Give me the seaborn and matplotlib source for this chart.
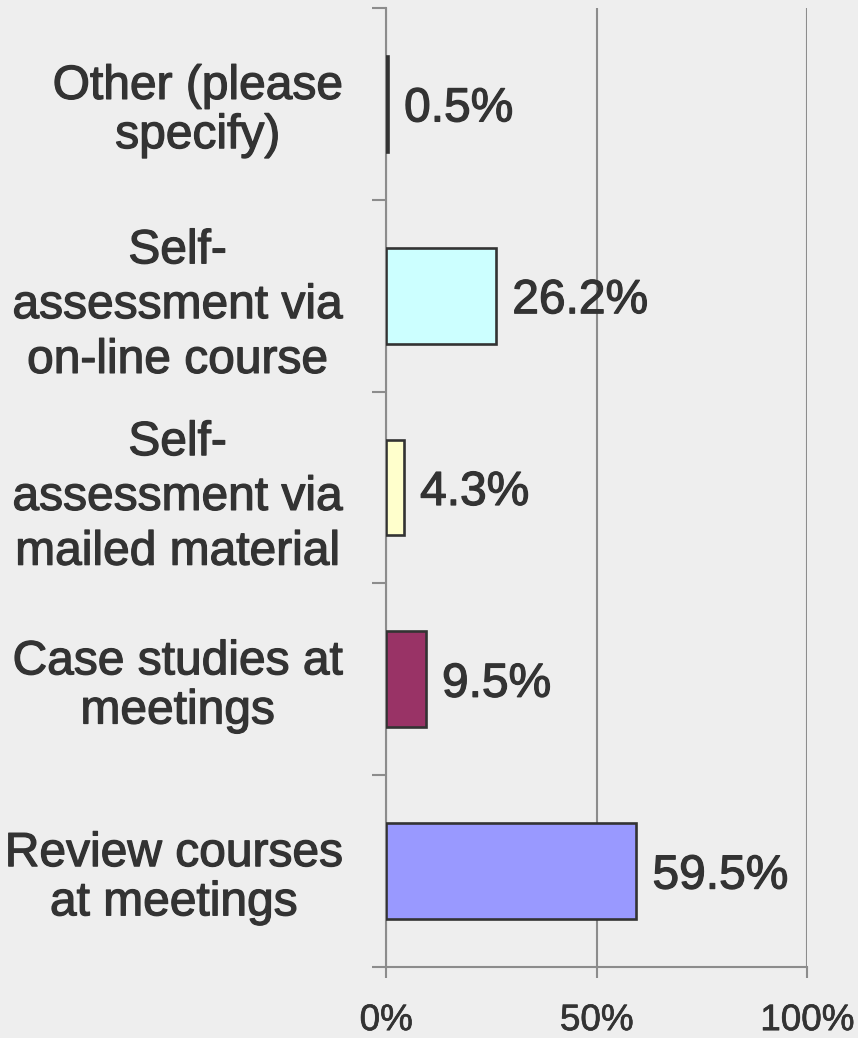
import matplotlib
matplotlib.use("Agg")
import matplotlib.pyplot as plt
import matplotlib.patheffects as pe
import seaborn as sns
import pandas as pd

categories = [
    "Other (please\nspecify)",
    "Self-\nassessment via\non-line course",
    "Self-\nassessment via\nmailed material",
    "Case studies at\nmeetings",
    "Review courses\nat meetings",
]
values = [0.5, 26.2, 4.3, 9.5, 59.5]
colors = ["#660066", "#ccffff", "#ffffcc", "#993366", "#9999ff"]
xtick_values = [0, 50, 100]
xtick_labels = ["0%", "50%", "100%"]

bg = "#eeeeee"
text_color = "#333333"
grid_color = "#8c8c8c"
heavier = [pe.withStroke(linewidth=0.9, foreground=text_color)]

sns.set_theme(style="white")
plt.rcParams["font.family"] = ["Liberation Sans", "DejaVu Sans"]

df = pd.DataFrame({"category": categories, "value": values})

W, H = 858, 1038
fig = plt.figure(figsize=(W / 100, H / 100), dpi=100, facecolor=bg)
ax = fig.add_axes([386 / W, (H - 967) / H, (807 - 386) / W, (967 - 8) / H])
ax.set_facecolor(bg)

sns.barplot(
    data=df, x="value", y="category", hue="category",
    palette=colors, saturation=1, orient="h", width=0.5, legend=False,
    edgecolor=text_color, linewidth=1.9, ax=ax, zorder=3,
)

ax.set_xlim(0, 100)
ax.set_ylim(len(categories) - 0.5, -0.5)
ax.set_xticks(xtick_values)
ax.set_xticklabels(xtick_labels)
ax.set_xlabel("")
ax.set_ylabel("")

# vertical gridlines
ax.grid(axis="x", color=grid_color, linewidth=1.5, zorder=0)
ax.set_axisbelow(True)

# category boundaries as tick marks on the left
ax.set_yticks([i - 0.5 for i in range(len(categories) + 1)], minor=True)
ax.tick_params(axis="y", which="minor", left=True, length=10, width=1.5,
               color=grid_color)
ax.tick_params(axis="y", which="major", left=False, length=0, pad=31,
               labelsize=34.5, labelcolor=text_color)
for lbl in ax.get_yticklabels():
    lbl.set_multialignment("center")
    n_lines = lbl.get_text().count("\n") + 1
    lbl.set_linespacing(1.28 if n_lines > 2 else 1.12)
    lbl.set_path_effects(heavier)

ax.tick_params(axis="x", which="major", bottom=True, length=8, width=1.5,
               color=grid_color, pad=18, labelsize=26.5, labelcolor=text_color)
for lbl in ax.get_xticklabels():
    lbl.set_path_effects([pe.withStroke(linewidth=0.5, foreground=text_color)])

for side in ["top", "right"]:
    ax.spines[side].set_visible(False)
for side in ["left", "bottom"]:
    ax.spines[side].set_color(grid_color)
    ax.spines[side].set_linewidth(1.5)

for cont in ax.containers:
    for t in ax.bar_label(cont, fmt="%.1f%%", padding=11.5, fontsize=34.5,
                          color=text_color):
        t.set_va("center_baseline")
        t.set_path_effects(heavier)

fig.savefig("out.png", dpi=100, facecolor=bg)
